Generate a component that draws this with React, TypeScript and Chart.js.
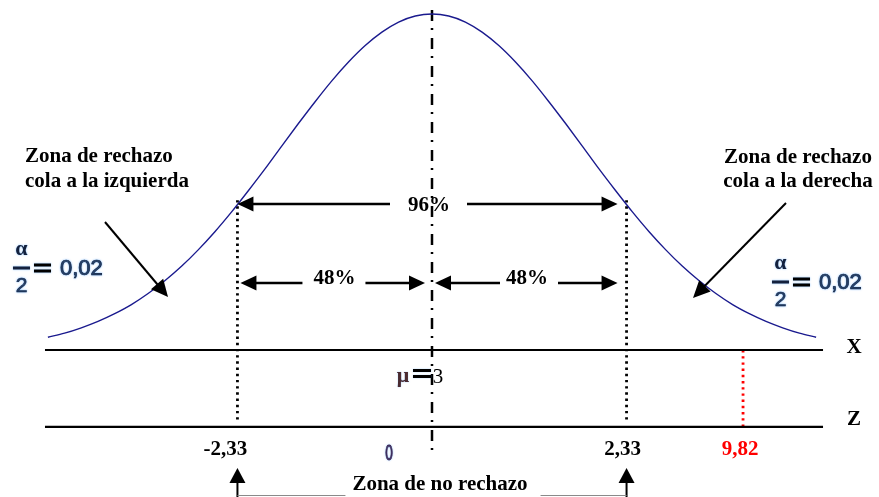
import React, { useEffect, useRef } from "react";
import { Chart, registerables } from "chart.js";

Chart.register(...registerables);

// ---- Data ----
// Normal curve: standardized position (z units) and relative density
const curveZ = [
  -4.6, -4.4, -4.2, -4.0, -3.8, -3.6, -3.4, -3.2, -3.0, -2.8, -2.6, -2.4,
  -2.2, -2.0, -1.8, -1.6, -1.4, -1.2, -1.0, -0.8, -0.6, -0.4, -0.2, 0.0,
  0.2, 0.4, 0.6, 0.8, 1.0, 1.2, 1.4, 1.6, 1.8, 2.0, 2.2, 2.4, 2.6, 2.8,
  3.0, 3.2, 3.4, 3.6, 3.8, 4.0, 4.2, 4.4, 4.6,
];
const curveDensity = [
  0.038, 0.05, 0.066, 0.085, 0.108, 0.135, 0.168, 0.206, 0.249, 0.298, 0.352, 0.411,
  0.474, 0.539, 0.607, 0.674, 0.739, 0.801, 0.857, 0.906, 0.946, 0.976, 0.994, 1.0,
  0.994, 0.976, 0.946, 0.906, 0.857, 0.801, 0.739, 0.674, 0.607, 0.539, 0.474, 0.411,
  0.352, 0.298, 0.249, 0.206, 0.168, 0.135, 0.108, 0.085, 0.066, 0.05, 0.038,
];
// Axes (X and Z lines) levels and horizontal extent
const axisLevels = [0, -0.229];
const axisNames = ["X", "Z"];
const axisRange = [-4.635, 4.683];
// Critical values
const criticalZ = [-2.33, 2.33];
const criticalLabels = ["-2,33", "2,33"];
const criticalTop = 0.446;
const criticalBottom = -0.214;
// Observed value marker
const observedZ = 3.725;
const observedLabel = "9,82";
// Mean line
const meanTop = 1.012;
const meanBottom = -0.3125;
const meanLabel = "3";
const zeroLabel = "0";
// Percent labels and arrow levels
const confidenceLabel = "96%";
const halfLabel = "48%";
const confidenceLevel = 0.4345;
const halfLevel = 0.1994;
const alphaHalfValue = "0,02";
const rejectLeft = ["Zona de rechazo", "cola a la izquierda"];
const rejectRight = ["Zona de rechazo", "cola a la derecha"];
const acceptLabel = "Zona de no rechazo";

const SERIF = '"Liberation Serif", "Times New Roman", serif';
const SANS = '"Liberation Sans", Arial, sans-serif';

function arrow(
  ctx: CanvasRenderingContext2D,
  x1: number,
  y1: number,
  x2: number,
  y2: number,
  width = 2.5,
  head = 16,
  half = 7.5
) {
  const a = Math.atan2(y2 - y1, x2 - x1);
  const bx = x2 - Math.cos(a) * head;
  const by = y2 - Math.sin(a) * head;
  ctx.save();
  ctx.strokeStyle = "#000";
  ctx.fillStyle = "#000";
  ctx.lineWidth = width;
  ctx.beginPath();
  ctx.moveTo(x1, y1);
  ctx.lineTo(bx + Math.cos(a) * 2, by + Math.sin(a) * 2);
  ctx.stroke();
  ctx.beginPath();
  ctx.moveTo(x2, y2);
  ctx.lineTo(bx - Math.sin(a) * half, by + Math.cos(a) * half);
  ctx.lineTo(bx + Math.sin(a) * half, by - Math.cos(a) * half);
  ctx.closePath();
  ctx.fill();
  ctx.restore();
}

function text(
  ctx: CanvasRenderingContext2D,
  s: string,
  x: number,
  y: number,
  font: string,
  color = "#000",
  align: CanvasTextAlign = "center",
  stroke = 0
) {
  ctx.save();
  ctx.font = font;
  ctx.fillStyle = color;
  ctx.textAlign = align;
  ctx.textBaseline = "middle";
  ctx.fillText(s, x, y);
  if (stroke > 0) {
    ctx.strokeStyle = color;
    ctx.lineWidth = stroke;
    ctx.strokeText(s, x, y);
  }
  ctx.restore();
}

function alphaHalf(ctx: CanvasRenderingContext2D, x0: number, yBar: number) {
  ctx.save();
  ctx.shadowColor = "rgba(90,170,255,0.75)";
  ctx.shadowBlur = 2;
  const col = "#14213d";
  text(ctx, "α", x0 + 8.5, yBar - 19, `bold 22px ${SERIF}`, col);
  ctx.fillStyle = col;
  ctx.fillRect(x0, yBar - 1.5, 17, 3);
  text(ctx, "2", x0 + 8.5, yBar + 18, `21px ${SANS}`, col, "center", 0.6);
  ctx.fillStyle = "#000";
  ctx.fillRect(x0 + 21, yBar - 4.5, 17, 3);
  ctx.fillRect(x0 + 21, yBar + 1.5, 17, 3);
  text(ctx, alphaHalfValue, x0 + 47, yBar + 1, `22px ${SANS}`, col, "left", 0.7);
  ctx.restore();
}

const annotations = {
  id: "annotations",
  afterDatasetsDraw(chart: any) {
    const ctx: CanvasRenderingContext2D = chart.ctx;
    const xs = chart.scales.x;
    const ys = chart.scales.y;
    const px = (v: number) => xs.getPixelForValue(v);
    const py = (v: number) => ys.getPixelForValue(v);
    const bold21 = `bold 21px ${SERIF}`;

    const cl = px(criticalZ[0]);
    const cr = px(criticalZ[1]);
    const cm = px(0);

    // 96% arrows
    const y96 = py(confidenceLevel);
    arrow(ctx, cm - 42, y96, cl, y96);
    arrow(ctx, cm + 35, y96, cr - 9, y96);
    text(ctx, confidenceLabel, cm - 3, y96 + 2, bold21);

    // 48% arrows
    const y48 = py(halfLevel);
    arrow(ctx, cl + 65, y48, cl + 3, y48);
    arrow(ctx, cl + 128, y48, cm - 7, y48);
    text(ctx, halfLabel, cl + 97, y48 - 4, bold21);
    arrow(ctx, cm + 68, y48, cm + 3, y48);
    arrow(ctx, cm + 126, y48, cr - 9, y48);
    text(ctx, halfLabel, cm + 95, y48 - 4, bold21);

    // Rejection zone labels
    text(ctx, rejectLeft[0], 25, 157, bold21, "#000", "left");
    text(ctx, rejectLeft[1], 25, 182, bold21, "#000", "left");
    text(ctx, rejectRight[0], 798, 158, bold21);
    text(ctx, rejectRight[1], 798, 182, bold21);
    arrow(ctx, 105, 222, 168, 297, 2, 17, 8);
    arrow(ctx, 786, 203, 693, 298, 2, 17, 8);

    // alpha / 2
    alphaHalf(ctx, 13, 268);
    alphaHalf(ctx, 772, 282);

    // Axis names
    axisLevels.forEach((lv, i) => {
      text(ctx, axisNames[i], 854, py(lv) - 2 - i * 5, bold21);
    });

    // Critical labels
    text(ctx, criticalLabels[0], cl - 12, 450, bold21);
    text(ctx, criticalLabels[1], cr - 4, 450, bold21);
    text(ctx, observedLabel, px(observedZ) - 3, 450, bold21, "#ff0000");

    // mu = 3
    ctx.save();
    ctx.shadowColor = "rgba(90,170,255,0.7)";
    ctx.shadowBlur = 1.5;
    text(ctx, "μ", cm - 29, 376, `bold 22px ${SERIF}`, "#4a2a30");
    ctx.fillStyle = "#000";
    ctx.fillRect(cm - 19, 369, 18, 3);
    ctx.fillRect(cm - 19, 375, 18, 3);
    ctx.restore();
    text(ctx, meanLabel, cm + 6, 377, `21px ${SERIF}`, "#000");

    // zero label (narrow)
    ctx.save();
    ctx.translate(cm - 43, 454);
    ctx.scale(0.62, 1);
    ctx.shadowColor = "rgba(90,170,255,0.7)";
    ctx.shadowBlur = 1.5;
    text(ctx, zeroLabel, 0, 0, `22px ${SANS}`, "#3a1840", "center", 0.8);
    ctx.restore();

    // Non-rejection zone
    arrow(ctx, cl, 498, cl, 468, 2, 15, 8);
    arrow(ctx, cr, 498, cr, 468, 2, 15, 8);
    ctx.save();
    ctx.strokeStyle = "#8a8a8a";
    ctx.lineWidth = 1;
    ctx.beginPath();
    ctx.moveTo(cl, 495.5);
    ctx.lineTo(cl + 108, 495.5);
    ctx.moveTo(cr - 86, 495.5);
    ctx.lineTo(cr, 495.5);
    ctx.stroke();
    ctx.restore();
    text(ctx, acceptLabel, cm + 8, 485, bold21);
  },
};

export default function App() {
  const ref = useRef<HTMLCanvasElement | null>(null);

  useEffect(() => {
    if (!ref.current) return;
    const seg = (pts: { x: number; y: number }[], extra: any) => ({
      data: pts,
      showLine: true,
      pointRadius: 0,
      fill: false,
      borderColor: "#000",
      borderWidth: 2,
      clip: false,
      ...extra,
    });
    const datasets: any[] = [
      seg(
        curveZ.map((z, i) => ({ x: z, y: curveDensity[i] })),
        { borderColor: "#1a1a8e", borderWidth: 1.4, cubicInterpolationMode: "monotone" }
      ),
      ...axisLevels.map((lv) =>
        seg(
          [
            { x: axisRange[0], y: lv },
            { x: axisRange[1], y: lv },
          ],
          { borderWidth: 2.2 }
        )
      ),
      seg(
        [
          { x: 0, y: meanTop },
          { x: 0, y: meanBottom },
        ],
        { borderWidth: 2.5, borderDash: [11, 7, 2, 8] }
      ),
      ...criticalZ.map((z) =>
        seg(
          [
            { x: z, y: criticalTop },
            { x: z, y: criticalBottom },
          ],
          { borderWidth: 2.8, borderDash: [2.4, 3.8] }
        )
      ),
      seg(
        [
          { x: observedZ, y: axisLevels[0] },
          { x: observedZ, y: axisLevels[1] },
        ],
        { borderWidth: 2.8, borderDash: [2.4, 3.8], borderColor: "#ff0000" }
      ),
    ];

    const chart = new Chart(ref.current, {
      type: "scatter",
      data: { datasets },
      options: {
        animation: false,
        responsive: false,
        maintainAspectRatio: false,
        events: [],
        layout: { padding: 0 },
        plugins: { legend: { display: false }, tooltip: { enabled: false } },
        scales: {
          x: { type: "linear", min: -5.1737, max: 5.3533, display: false },
          y: { type: "linear", min: -0.4375, max: 1.04167, display: false },
        },
      },
      plugins: [annotations],
    });
    return () => chart.destroy();
  }, []);

  return (
    <div style={{ position: "fixed", left: 0, top: 0, width: 879, height: 497, background: "#fff" }}>
      <canvas ref={ref} width={879} height={497} style={{ display: "block", width: 879, height: 497 }} />
    </div>
  );
}
